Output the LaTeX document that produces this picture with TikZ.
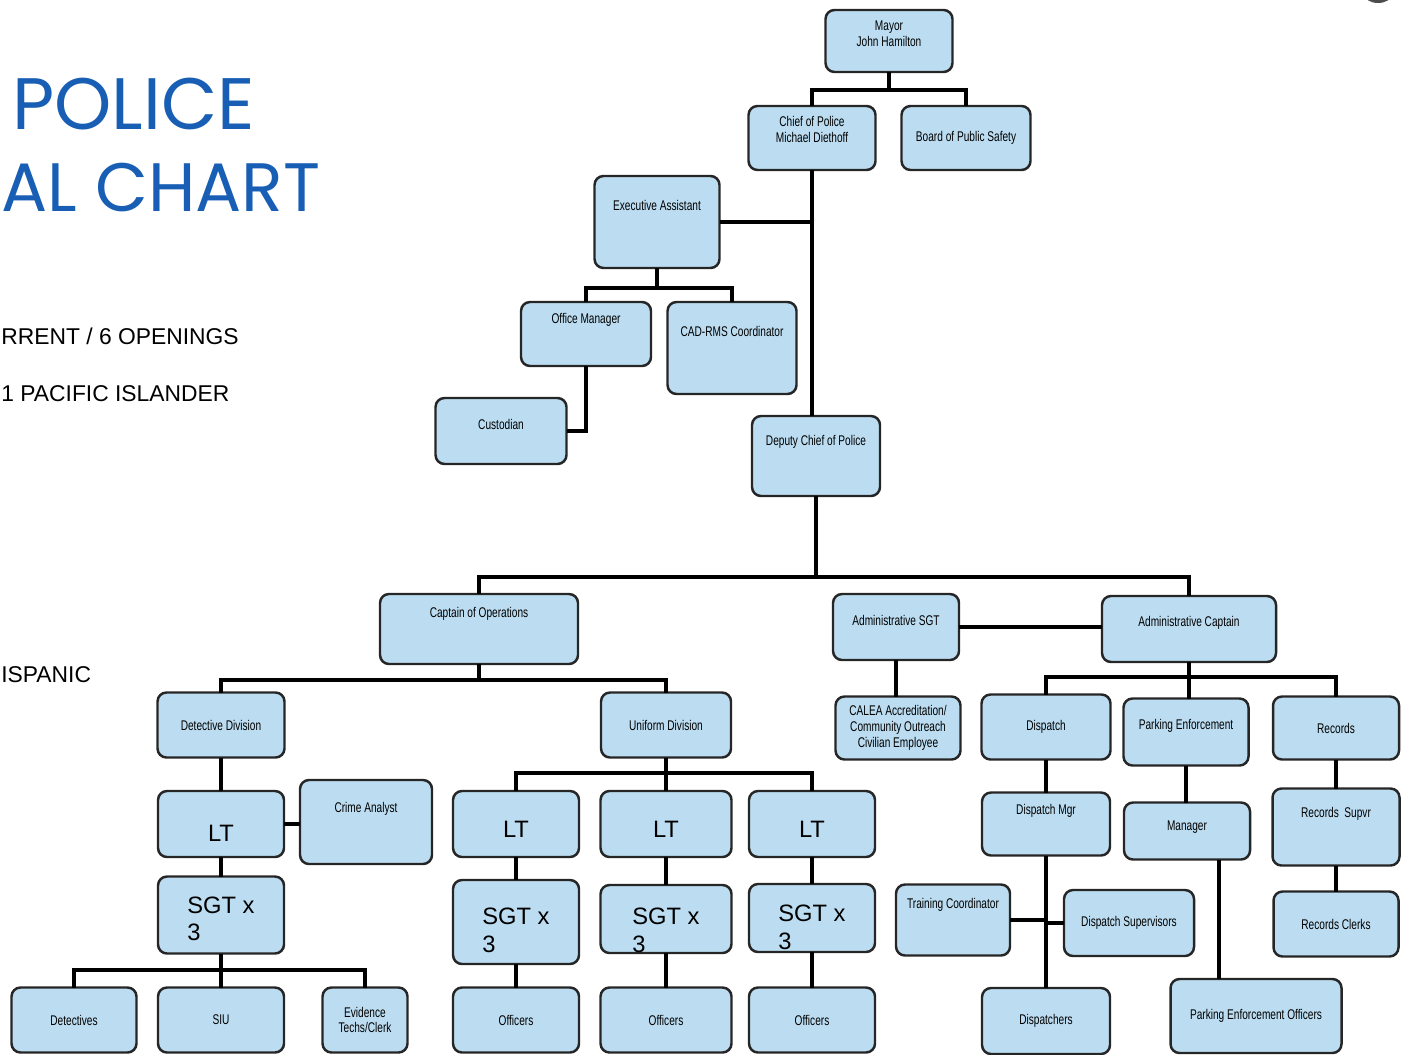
\documentclass[tikz,border=0pt]{standalone}
\usepackage{fontspec}
\setmainfont{Liberation Sans}
\newfontfamily\boxfont[FakeStretch=0.72]{Liberation Sans}
\newfontfamily\titlefont{Poppins}
\definecolor{boxblue}{RGB}{188,221,241}
\definecolor{titleblue}{RGB}{24,94,180}
\begin{document}
\begin{tikzpicture}[x=0.02cm,y=-0.02cm,
    box/.style={draw=black!85,line width=1.4pt,fill=boxblue,rounded corners=0.18cm,
        inner sep=0pt,outer sep=0pt,align=center,text=black,
        font=\boxfont\fontsize{8pt}{9pt}\selectfont},
    wh/.style 2 args={minimum width=#1*0.02cm,minimum height=#2*0.02cm},
    up/.style={text height=5.8pt,text depth=#1*1.138pt},
    big/.style={font=\fontsize{13.5pt}{15.5pt}\selectfont,text=black},
    wire/.style={line width=1.9pt,black}]
    \useasboundingbox (0,0) rectangle (1405,1054);
    \clip (0,0) rectangle (1405,1054);
    % title and notes
    \node[anchor=base west,inner sep=0pt,text=titleblue,font=\titlefont\fontsize{41.5pt}{41.5pt}\selectfont] (t1) at (12,130) {POLICE};
    \node[anchor=base west,inner sep=0pt,text=titleblue,font=\titlefont\fontsize{39pt}{39pt}\selectfont] (t2) at (1,212) {AL CHART};
    \node[anchor=base west,inner sep=0pt,font=\fontsize{13pt}{13pt}\selectfont] (n1) at (1,344) {RRENT / 6 OPENINGS};
    \node[anchor=base west,inner sep=0pt,font=\fontsize{13pt}{13pt}\selectfont] (n2) at (1,401) {1 PACIFIC ISLANDER};
    \node[anchor=base west,inner sep=0pt,font=\fontsize{13pt}{13pt}\selectfont] (n3) at (1,682) {ISPANIC};
    \fill[black!70] (1378,-6) ellipse (14 and 9);
    % top of the chart
    \node[box,wh={127}{62},up=0] (mayor) at (889,41) {Mayor\\John Hamilton};
    \node[box,wh={127}{64},up=1] (chief) at (812,138) {Chief of Police\\Michael Diethoff};
    \node[box,wh={129}{64}] (board) at (966,138) {Board of Public Safety};
    \node[box,wh={125}{92},up=17] (exec) at (657,222) {Executive Assistant};
    \node[box,wh={130}{64},up=16] (offmgr) at (586,334) {Office Manager};
    \node[box,wh={129}{92},up=17] (cad) at (732,348) {CAD-RMS Coordinator};
    \node[box,wh={131}{66},up=7] (cust) at (501,431) {Custodian};
    \node[box,wh={128}{80},up=16] (deputy) at (816,456) {Deputy Chief of Police};
    % captains
    \node[box,wh={198}{70},up=17] (capops) at (479,629) {Captain of Operations};
    \node[box,wh={126}{66},up=7] (admsgt) at (896,627) {Administrative SGT};
    \node[box,wh={174}{66},up=8] (admcapt) at (1189,629) {Administrative Captain};
    % administration
    \node[box,wh={125}{63}] (calea) at (898,728) {CALEA Accreditation/\\Community Outreach\\Civilian Employee};
    \node[box,wh={129}{65}] (dispatch) at (1046,727) {Dispatch};
    \node[box,wh={125}{67},up=8] (parking) at (1186,732) {Parking Enforcement};
    \node[box,wh={126}{63}] (records) at (1336,728) {Records};
    \node[box,wh={128}{63},up=15] (dispmgr) at (1046,824) {Dispatch Mgr};
    \node[box,wh={126}{57},up=6] (manager) at (1187,831) {Manager};
    \node[box,wh={127}{77},up=15] (recsup) at (1336,827) {Records\ \ Supvr};
    \node[box,wh={125}{65}] (recclerk) at (1336,924) {Records Clerks};
    \node[box,wh={114}{71},up=17] (training) at (953,920) {Training Coordinator};
    \node[box,wh={130}{66}] (dispsup) at (1129,923) {Dispatch Supervisors};
    \node[box,wh={128}{66}] (dispatchers) at (1046,1021) {Dispatchers};
    \node[box,wh={171}{74}] (peo) at (1256,1016) {Parking Enforcement Officers};
    % operations
    \node[box,wh={127}{65}] (detdiv) at (221,725) {Detective Division};
    \node[box,wh={130}{65}] (unidiv) at (666,725) {Uniform Division};
    \node[box,wh={126}{66},big,text height=20.2pt,text depth=0pt] (detlt) at (221,824) {LT};
    \node[box,wh={132}{84},up=15] (crime) at (366,822) {Crime Analyst};
    \node[box,wh={126}{77},big,align=left,text height=29pt,text depth=0pt] (detsgt) at (221,915) {SGT x\\3};
    \node[box,wh={125}{65}] (dets) at (74,1020) {Detectives};
    \node[box,wh={126}{65}] (situ) at (221,1020) {SIU};
    \node[box,wh={85}{65}] (evid) at (365,1020) {Evidence\\Techs/Clerk};
    \foreach \i/\x/\w/\ys/\hs/\th in {1/516/126/922/84/34.3, 2/666/131/919/68/37.7, 3/812/126/918/68/35.4} {
        \node[box,wh={\w}{66},big,text height=15.7pt,text depth=0pt] (lt\i) at (\x,824) {LT};
        \node[box,wh={\w}{\hs},big,align=left,text height=\th pt,text depth=0pt] (sgt\i) at (\x,\ys) {SGT x\\3};
        \node[box,wh={\w}{65}] (off\i) at (\x,1020) {Officers};
    }
    % connectors
    \coordinate (b1) at (889,90);
    \coordinate (b2) at (657,288);
    \coordinate (b3) at (816,577);
    \coordinate (b4) at (479,680);
    \coordinate (b5) at (1189,677);
    \coordinate (b6) at (221,970);
    \coordinate (b7) at (666,773);
    \coordinate (pm) at (1219,0);
    \draw[wire] (mayor.south) -- (b1);
    \draw[wire] (chief.north) |- (b1) -| (board.north);
    \draw[wire] (chief.south) -- (chief.south |- deputy.north);
    \draw[wire] (exec.east) -- (exec.east -| chief.south);
    \draw[wire] (exec.south) -- (b2);
    \draw[wire] (offmgr.north) |- (b2) -| (cad.north);
    \draw[wire] (offmgr.south) |- (cust.east);
    \draw[wire] (deputy.south) -- (b3);
    \draw[wire] (capops.north) |- (b3) -| (admcapt.north);
    \draw[wire] (admsgt.east) -- (admsgt.east -| admcapt.west);
    \draw[wire] (admsgt.south) -- (admsgt.south |- calea.north);
    \draw[wire] (admcapt.south) -- (admcapt.south |- parking.north);
    \draw[wire] (dispatch.north) |- (b5) -| (records.north);
    \draw[wire] (dispatch.south) -- (dispmgr.north);
    \draw[wire] (parking.south) -- (parking.south |- manager.north);
    \draw[wire] (records.south) -- (recsup.north);
    \draw[wire] (recsup.south) -- (recclerk.north);
    \draw[wire] (dispmgr.south) -- (dispatchers.north);
    \draw[wire] (training.east) -- (training.east -| dispmgr.south);
    \draw[wire] (dispsup.west) -- (dispsup.west -| dispmgr.south);
    \draw[wire] (manager.south -| pm) -- (peo.north -| pm);
    \draw[wire] (capops.south) -- (b4);
    \draw[wire] (detdiv.north) |- (b4) -| (unidiv.north);
    \draw[wire] (detdiv.south) -- (detlt.north);
    \draw[wire] (detlt.east) -- (detlt.east -| crime.west);
    \draw[wire] (detlt.south) -- (detsgt.north);
    \draw[wire] (detsgt.south) -- (situ.north);
    \draw[wire] (dets.north) |- (b6) -| (evid.north);
    \draw[wire] (unidiv.south) -- (b7);
    \draw[wire] (lt1.north) |- (b7) -| (lt3.north);
    \draw[wire] (b7) -- (lt2.north);
    \foreach \i in {1,2,3} {
        \draw[wire] (lt\i.south) -- (sgt\i.north);
        \draw[wire] (sgt\i.south) -- (off\i.north);
    }
\end{tikzpicture}
\end{document}
